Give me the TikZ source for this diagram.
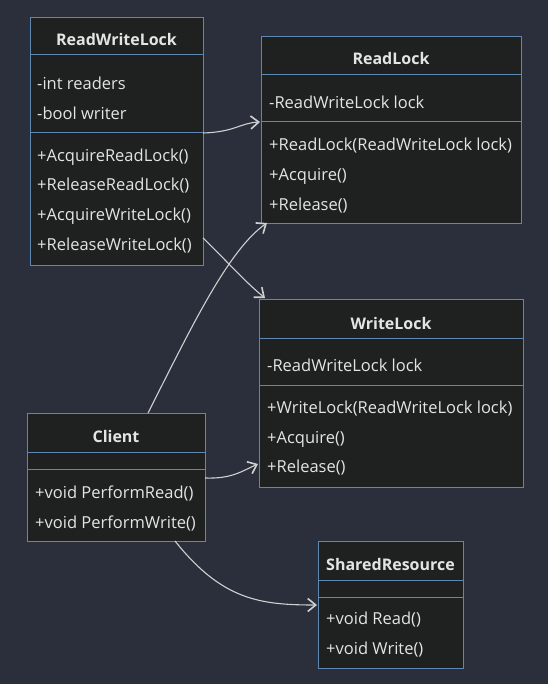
\documentclass[tikz,border=0pt]{standalone}
\usepackage{fontspec}
\setmainfont{Open Sans}
\usetikzlibrary{arrows.meta}
\definecolor{bgc}{HTML}{2A2F3B}
\definecolor{boxfill}{HTML}{1F2020}
\definecolor{boxline}{HTML}{5E88B2}
\definecolor{txtc}{HTML}{E4E4E4}
\definecolor{arrc}{HTML}{D0D0D0}
\tikzset{
  classbox/.style={draw=boxline, fill=boxfill, line width=1pt, rectangle, inner sep=0pt, anchor=north west},
  divider/.style={draw=boxline, line width=1pt},
  title/.style={text=txtc, font=\fontsize{16}{18}\selectfont\bfseries, inner sep=0pt, anchor=center, yshift=-1pt},
  member/.style={text=txtc, font=\fontsize{16.5}{18}\selectfont, inner sep=0pt, anchor=west, yshift=-1pt},
  rel/.style={draw=arrc, line width=1.1pt, -{Straight Barb[length=8pt,width=13pt,line width=1.6pt]}},
}
\begin{document}
\begin{tikzpicture}[x=1pt,y=-1pt]
\fill[bgc] (0,0) rectangle (548,684);
\useasboundingbox (0,0) rectangle (548,684);

% ReadWriteLock
\node[classbox, minimum width=173pt, minimum height=248pt] (rwl) at (30,17) {};
\draw[divider] (30,55) -- (203,55);
\draw[divider] (30,133) -- (203,133);
\node[title] (rwlt) at (116.5,39) {ReadWriteLock};
\node[member] (rwla1) at (37,82) {-int readers};
\node[member] (rwla2) at (37,112) {-bool writer};
\node[member] (rwlm1) at (37,156) {+AcquireReadLock()};
\node[member] (rwlm2) at (37,185) {+ReleaseReadLock()};
\node[member] (rwlm3) at (37,215) {+AcquireWriteLock()};
\node[member] (rwlm4) at (37,245) {+ReleaseWriteLock()};

% ReadLock
\node[classbox, minimum width=260pt, minimum height=187pt] (rl) at (261,36) {};
\draw[divider] (261,75) -- (521,75);
\draw[divider] (261,122) -- (521,122);
\node[title] (rlt) at (391,58) {ReadLock};
\node[member] (rla1) at (269,101) {-ReadWriteLock lock};
\node[member] (rlm1) at (269,145) {+ReadLock(ReadWriteLock lock)};
\node[member] (rlm2) at (269,175) {+Acquire()};
\node[member] (rlm3) at (269,205) {+Release()};

% WriteLock
\node[classbox, minimum width=264pt, minimum height=188pt] (wl) at (259,299) {};
\draw[divider] (259,338) -- (523,338);
\draw[divider] (259,385) -- (523,385);
\node[title] (wlt) at (391,322) {WriteLock};
\node[member] (wla1) at (267,364) {-ReadWriteLock lock};
\node[member] (wlm1) at (267,408) {+WriteLock(ReadWriteLock lock)};
\node[member] (wlm2) at (267,438) {+Acquire()};
\node[member] (wlm3) at (267,467) {+Release()};

% Client
\node[classbox, minimum width=178pt, minimum height=128pt] (cl) at (27,413) {};
\draw[divider] (27,452) -- (205,452);
\draw[divider] (27,469) -- (205,469);
\node[title] (clt) at (116,435) {Client};
\node[member] (clm1) at (35,492) {+void PerformRead()};
\node[member] (clm2) at (35,522) {+void PerformWrite()};

% SharedResource
\node[classbox, minimum width=145pt, minimum height=127pt] (sr) at (318,541) {};
\draw[divider] (318,580) -- (463,580);
\draw[divider] (318,597) -- (463,597);
\node[title] (srt) at (390.5,563) {SharedResource};
\node[member] (srm1) at (326,619) {+void Read()};
\node[member] (srm2) at (326,649) {+void Write()};

% anchors for connectors
\coordinate (a1s) at (203,133);
\coordinate (a1e) at (260,122);
\coordinate (a2s) at (203,238);
\coordinate (a2e) at (265,298);
\coordinate (a3s) at (148,413);
\coordinate (a3e) at (267,223);
\coordinate (a4s) at (205,478);
\coordinate (a4e) at (258,464);
\coordinate (a5s) at (175,541);
\coordinate (a5e) at (317,605);

\draw[rel] (a1s) .. controls (235,132) and (240,123) .. (a1e);
\draw[rel] (a2s) .. controls (222,256) and (245,282) .. (a2e);
\draw[rel] (a3s) .. controls (190,330) and (228,250) .. (a3e);
\draw[rel] (a4s) .. controls (232,479) and (242,471) .. (a4e);
\draw[rel] (a5s) .. controls (222,600) and (260,605) .. (a5e);
\end{tikzpicture}
\end{document}
